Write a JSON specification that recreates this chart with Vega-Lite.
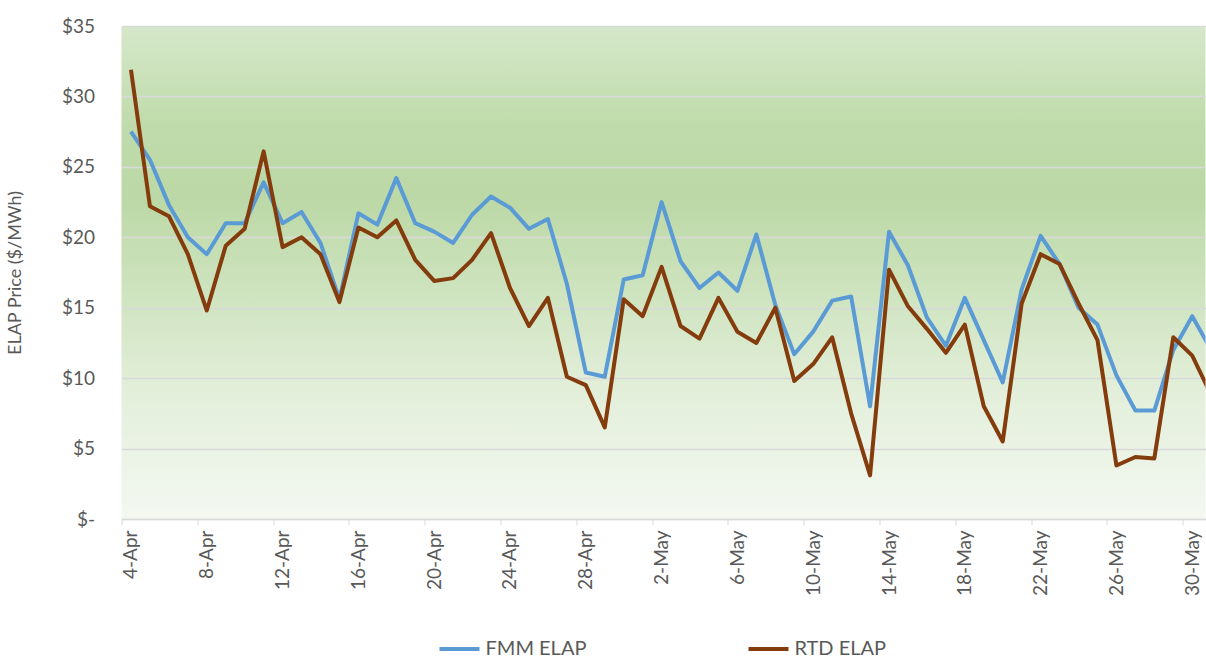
{
  "$schema": "https://vega.github.io/schema/vega-lite/v6.json",
  "width": 1084,
  "height": 493,
  "autosize": {"type": "none"},
  "padding": {"left": 121.5, "top": 26, "right": 0, "bottom": 144},
  "background": "white",
  "config": {
    "font": "Lato",
    "view": {
      "stroke": null,
      "fill": {
        "gradient": "linear", "x1": 0, "y1": 0, "x2": 0, "y2": 1,
        "stops": [
          {"offset": 0, "color": "#d5e8ca"},
          {"offset": 0.2, "color": "#c0dbab"},
          {"offset": 0.35, "color": "#bcd8a6"},
          {"offset": 0.55, "color": "#cfe4c0"},
          {"offset": 0.75, "color": "#e3efdb"},
          {"offset": 1, "color": "#f4f8f1"}
        ]
      }
    },
    "axis": {"labelColor": "#595959", "titleColor": "#595959", "labelFont": "Lato", "titleFont": "Lato"},
    "legend": {"labelColor": "#595959", "labelFont": "Lato"}
  },
  "data": {
    "values": [
      {"date": "2021-04-04", "FMM ELAP": 27.5, "RTD ELAP": 31.9},
      {"date": "2021-04-05", "FMM ELAP": 25.5, "RTD ELAP": 22.2},
      {"date": "2021-04-06", "FMM ELAP": 22.3, "RTD ELAP": 21.5},
      {"date": "2021-04-07", "FMM ELAP": 20.0, "RTD ELAP": 18.8},
      {"date": "2021-04-08", "FMM ELAP": 18.8, "RTD ELAP": 14.8},
      {"date": "2021-04-09", "FMM ELAP": 21.0, "RTD ELAP": 19.4},
      {"date": "2021-04-10", "FMM ELAP": 21.0, "RTD ELAP": 20.6},
      {"date": "2021-04-11", "FMM ELAP": 23.9, "RTD ELAP": 26.1},
      {"date": "2021-04-12", "FMM ELAP": 21.0, "RTD ELAP": 19.3},
      {"date": "2021-04-13", "FMM ELAP": 21.8, "RTD ELAP": 20.0},
      {"date": "2021-04-14", "FMM ELAP": 19.6, "RTD ELAP": 18.8},
      {"date": "2021-04-15", "FMM ELAP": 15.6, "RTD ELAP": 15.4},
      {"date": "2021-04-16", "FMM ELAP": 21.7, "RTD ELAP": 20.7},
      {"date": "2021-04-17", "FMM ELAP": 20.9, "RTD ELAP": 20.0},
      {"date": "2021-04-18", "FMM ELAP": 24.2, "RTD ELAP": 21.2},
      {"date": "2021-04-19", "FMM ELAP": 21.0, "RTD ELAP": 18.4},
      {"date": "2021-04-20", "FMM ELAP": 20.4, "RTD ELAP": 16.9},
      {"date": "2021-04-21", "FMM ELAP": 19.6, "RTD ELAP": 17.1},
      {"date": "2021-04-22", "FMM ELAP": 21.6, "RTD ELAP": 18.4},
      {"date": "2021-04-23", "FMM ELAP": 22.9, "RTD ELAP": 20.3},
      {"date": "2021-04-24", "FMM ELAP": 22.1, "RTD ELAP": 16.4},
      {"date": "2021-04-25", "FMM ELAP": 20.6, "RTD ELAP": 13.7},
      {"date": "2021-04-26", "FMM ELAP": 21.3, "RTD ELAP": 15.7},
      {"date": "2021-04-27", "FMM ELAP": 16.7, "RTD ELAP": 10.1},
      {"date": "2021-04-28", "FMM ELAP": 10.4, "RTD ELAP": 9.5},
      {"date": "2021-04-29", "FMM ELAP": 10.1, "RTD ELAP": 6.5},
      {"date": "2021-04-30", "FMM ELAP": 17.0, "RTD ELAP": 15.6},
      {"date": "2021-05-01", "FMM ELAP": 17.3, "RTD ELAP": 14.4},
      {"date": "2021-05-02", "FMM ELAP": 22.5, "RTD ELAP": 17.9},
      {"date": "2021-05-03", "FMM ELAP": 18.3, "RTD ELAP": 13.7},
      {"date": "2021-05-04", "FMM ELAP": 16.4, "RTD ELAP": 12.8},
      {"date": "2021-05-05", "FMM ELAP": 17.5, "RTD ELAP": 15.7},
      {"date": "2021-05-06", "FMM ELAP": 16.2, "RTD ELAP": 13.3},
      {"date": "2021-05-07", "FMM ELAP": 20.2, "RTD ELAP": 12.5},
      {"date": "2021-05-08", "FMM ELAP": 15.2, "RTD ELAP": 15.0},
      {"date": "2021-05-09", "FMM ELAP": 11.7, "RTD ELAP": 9.8},
      {"date": "2021-05-10", "FMM ELAP": 13.3, "RTD ELAP": 11.0},
      {"date": "2021-05-11", "FMM ELAP": 15.5, "RTD ELAP": 12.9},
      {"date": "2021-05-12", "FMM ELAP": 15.8, "RTD ELAP": 7.5},
      {"date": "2021-05-13", "FMM ELAP": 8.0, "RTD ELAP": 3.1},
      {"date": "2021-05-14", "FMM ELAP": 20.4, "RTD ELAP": 17.7},
      {"date": "2021-05-15", "FMM ELAP": 18.0, "RTD ELAP": 15.1},
      {"date": "2021-05-16", "FMM ELAP": 14.3, "RTD ELAP": 13.5},
      {"date": "2021-05-17", "FMM ELAP": 12.3, "RTD ELAP": 11.8},
      {"date": "2021-05-18", "FMM ELAP": 15.7, "RTD ELAP": 13.8},
      {"date": "2021-05-19", "FMM ELAP": 12.7, "RTD ELAP": 8.0},
      {"date": "2021-05-20", "FMM ELAP": 9.7, "RTD ELAP": 5.5},
      {"date": "2021-05-21", "FMM ELAP": 16.3, "RTD ELAP": 15.3},
      {"date": "2021-05-22", "FMM ELAP": 20.1, "RTD ELAP": 18.8},
      {"date": "2021-05-23", "FMM ELAP": 18.1, "RTD ELAP": 18.1},
      {"date": "2021-05-24", "FMM ELAP": 15.0, "RTD ELAP": 15.3},
      {"date": "2021-05-25", "FMM ELAP": 13.8, "RTD ELAP": 12.7},
      {"date": "2021-05-26", "FMM ELAP": 10.2, "RTD ELAP": 3.8},
      {"date": "2021-05-27", "FMM ELAP": 7.7, "RTD ELAP": 4.4},
      {"date": "2021-05-28", "FMM ELAP": 7.7, "RTD ELAP": 4.3},
      {"date": "2021-05-29", "FMM ELAP": 12.0, "RTD ELAP": 12.9},
      {"date": "2021-05-30", "FMM ELAP": 14.4, "RTD ELAP": 11.6},
      {"date": "2021-05-31", "FMM ELAP": 12.0, "RTD ELAP": 8.8}
    ]
  },
  "transform": [{"fold": ["FMM ELAP", "RTD ELAP"], "as": ["series", "price"]}],
  "mark": {"type": "line", "strokeWidth": 4, "clip": true, "strokeJoin": "round"},
  "encoding": {
    "x": {
      "field": "date",
      "type": "temporal",
      "scale": {
        "type": "utc",
        "domain": [
          {"year": 2021, "month": 4, "date": 3, "hours": 12, "utc": true},
          {"year": 2021, "month": 5, "date": 30, "hours": 16, "minutes": 48, "utc": true}
        ]
      },
      "axis": {
        "title": null,
        "grid": false,
        "values": [
          {"year": 2021, "month": 4, "date": 4, "utc": true},
          {"year": 2021, "month": 4, "date": 8, "utc": true},
          {"year": 2021, "month": 4, "date": 12, "utc": true},
          {"year": 2021, "month": 4, "date": 16, "utc": true},
          {"year": 2021, "month": 4, "date": 20, "utc": true},
          {"year": 2021, "month": 4, "date": 24, "utc": true},
          {"year": 2021, "month": 4, "date": 28, "utc": true},
          {"year": 2021, "month": 5, "date": 2, "utc": true},
          {"year": 2021, "month": 5, "date": 6, "utc": true},
          {"year": 2021, "month": 5, "date": 10, "utc": true},
          {"year": 2021, "month": 5, "date": 14, "utc": true},
          {"year": 2021, "month": 5, "date": 18, "utc": true},
          {"year": 2021, "month": 5, "date": 22, "utc": true},
          {"year": 2021, "month": 5, "date": 26, "utc": true},
          {"year": 2021, "month": 5, "date": 30, "utc": true}
        ],
        "labelExpr": "utcFormat(datum.value, '%-d-%b')",
        "labelAngle": -90,
        "labelFontSize": 19,
        "labelPadding": 5,
        "labelOverlap": false,
        "labelFlush": false,
        "tickOffset": -9.5,
        "labelOffset": 9.5,
        "tickSize": 6,
        "tickColor": "#d9d9d9",
        "domainColor": "#d9d9d9",
        "domainWidth": 1.5
      }
    },
    "y": {
      "field": "price",
      "type": "quantitative",
      "scale": {"domain": [0, 35], "nice": false, "zero": true},
      "axis": {
        "title": "ELAP Price ($/MWh)",
        "titleFontSize": 18,
        "titleFontWeight": "normal",
        "titlePadding": 37,
        "values": [0, 5, 10, 15, 20, 25, 30, 35],
        "labelExpr": "datum.value == 0 ? '$-' : '$' + datum.value",
        "labelFontSize": 19,
        "labelPadding": 27,
        "ticks": false,
        "domain": false,
        "grid": true,
        "gridColor": "#d9d9d9",
        "gridWidth": 1.5
      }
    },
    "color": {
      "field": "series",
      "type": "nominal",
      "scale": {"domain": ["FMM ELAP", "RTD ELAP"], "range": ["#5b9bd5", "#843c0c"]},
      "legend": {
        "title": null,
        "orient": "none",
        "direction": "horizontal",
        "legendX": 316,
        "legendY": 601,
        "symbolType": "stroke",
        "symbolStrokeWidth": 4,
        "symbolSize": 1600,
        "labelFontSize": 20,
        "labelOffset": 4,
        "columnPadding": 154
      }
    }
  }
}
